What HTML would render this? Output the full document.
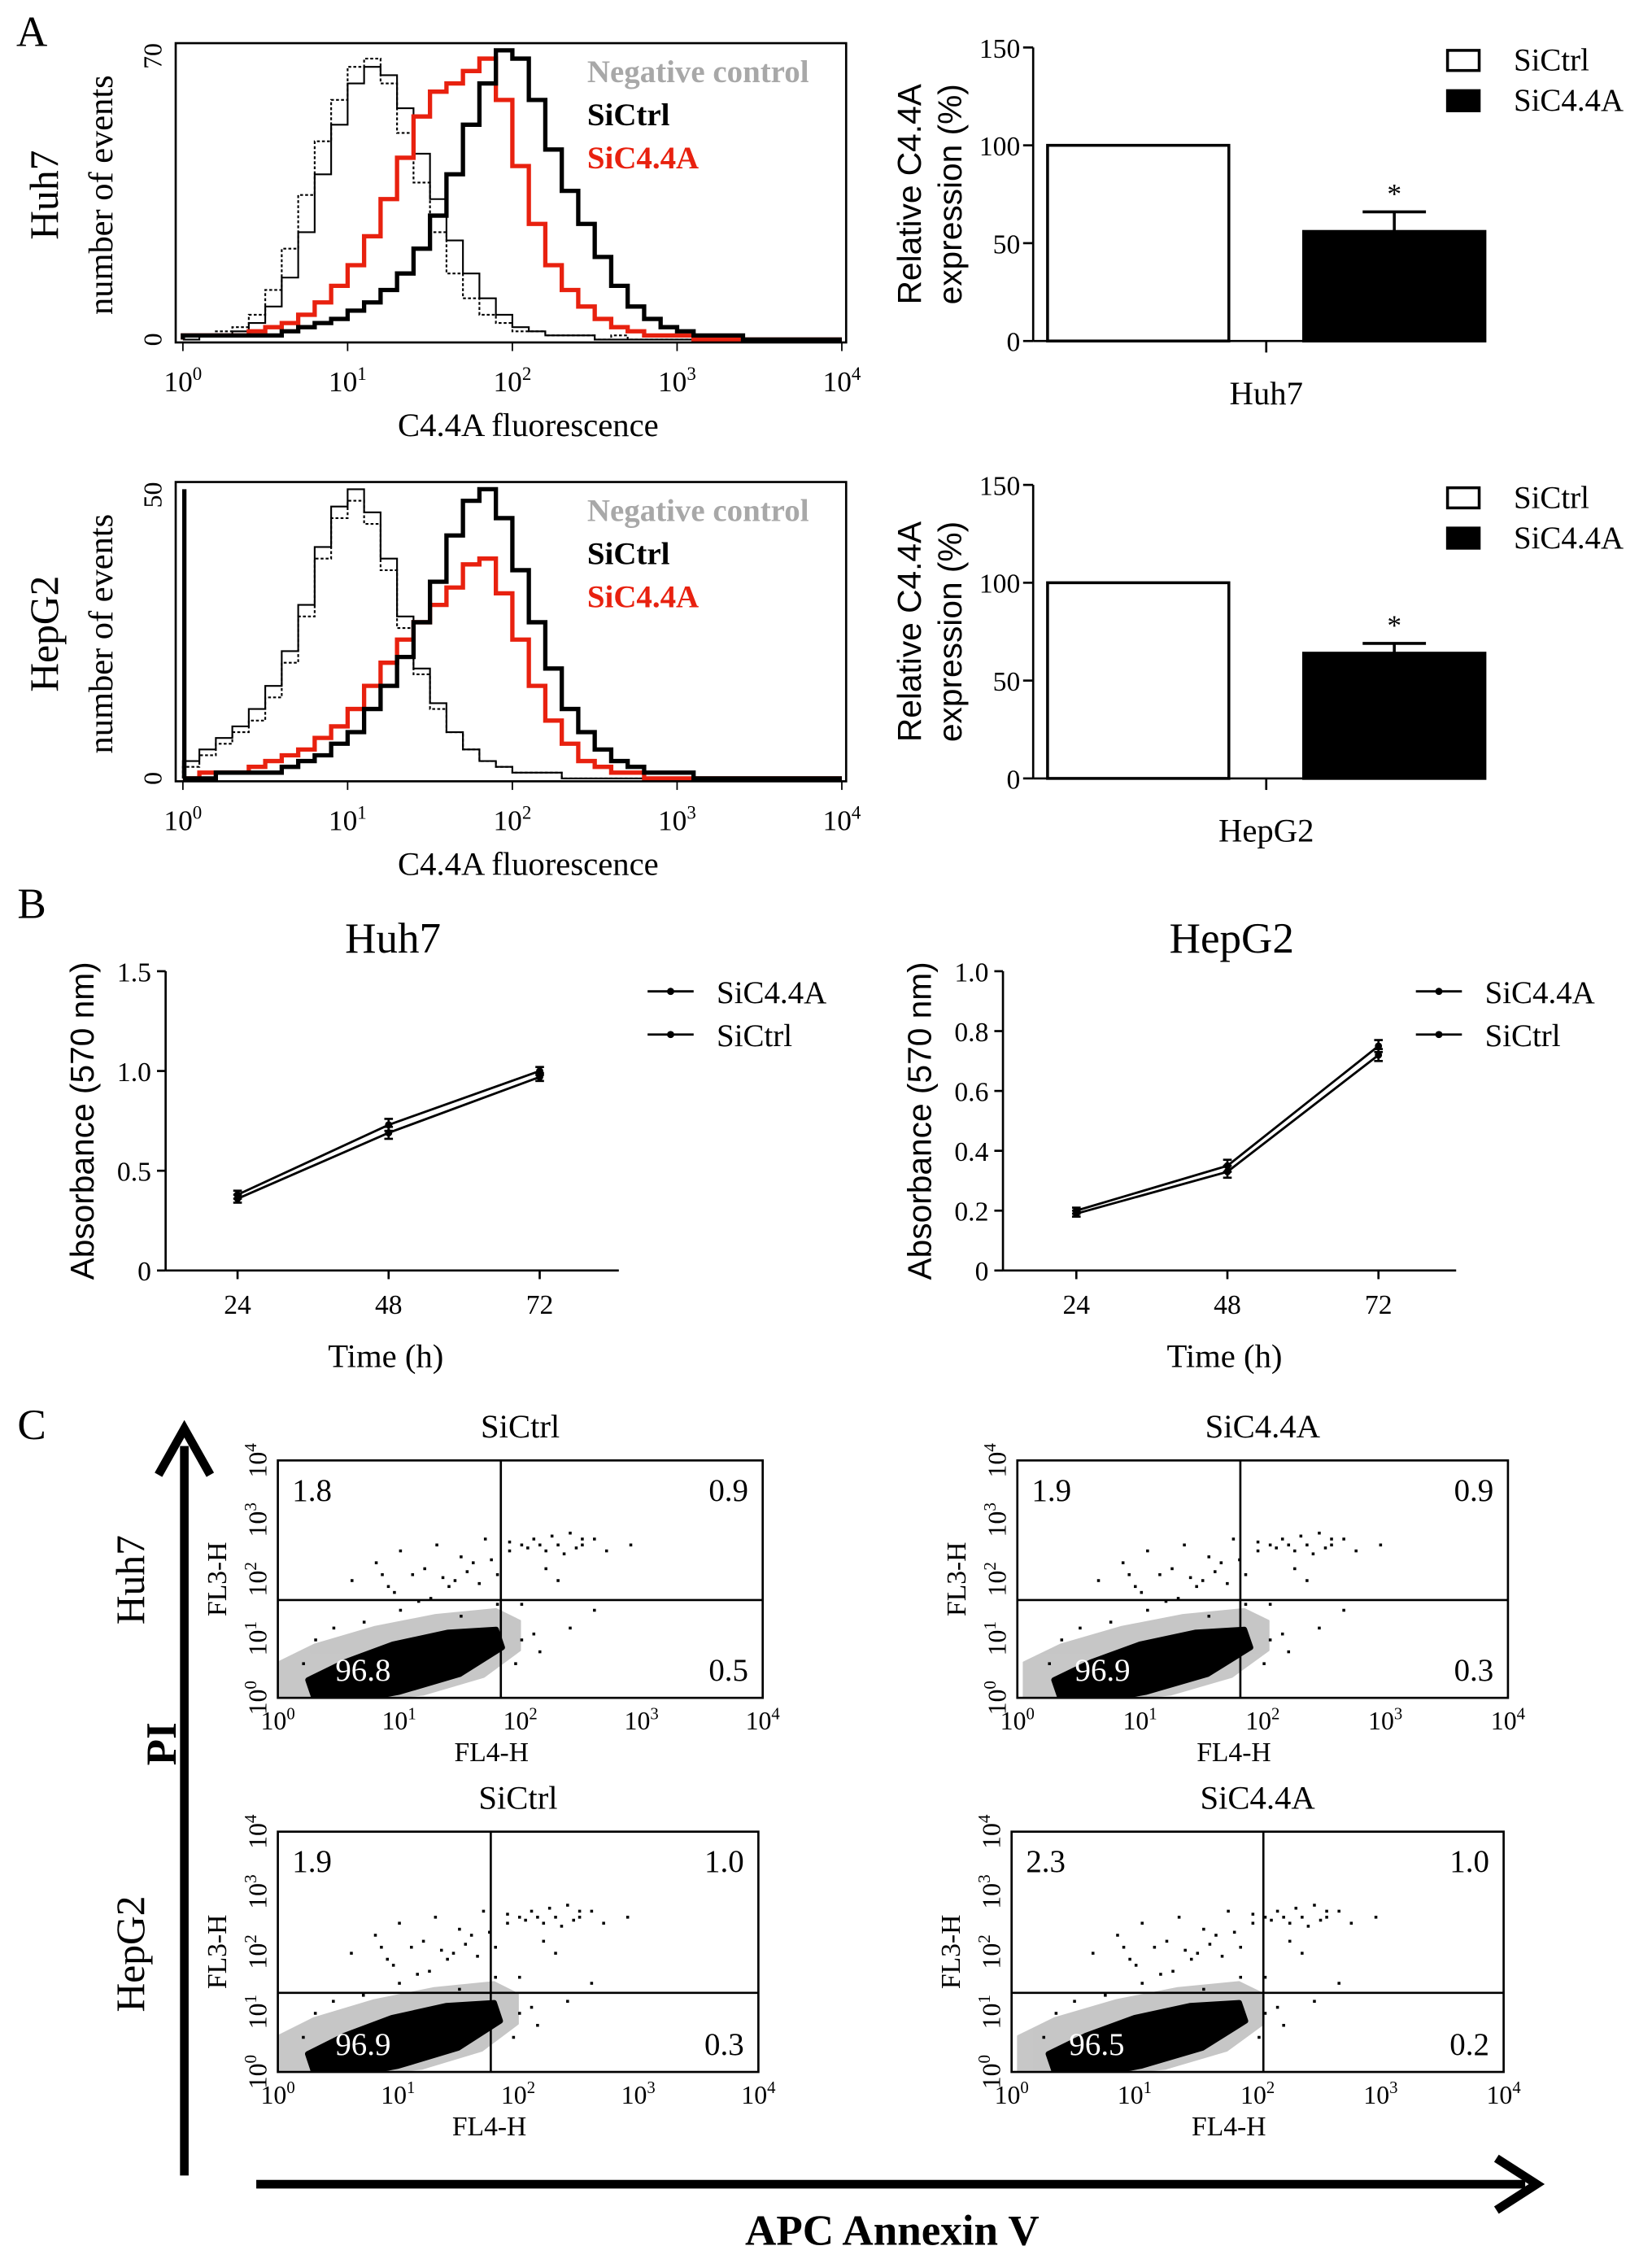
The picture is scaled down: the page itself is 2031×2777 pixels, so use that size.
<!DOCTYPE html>
<html><head><meta charset="utf-8">
<style>
html,body{margin:0;padding:0;background:#fff;}
svg{display:block;font-family:"Liberation Serif",serif;}
</style></head>
<body>
<svg id="fig" width="2031" height="2777" viewBox="0 0 1148 1570" xmlns="http://www.w3.org/2000/svg"></svg>
<script>
// ---------- DATA ----------
const histBinsLog = [0.05,0.15,0.25,0.35,0.45,0.55,0.65,0.75,0.85,0.95,1.05,1.15,1.25,1.35,1.45,1.55,1.65,1.75,1.85,1.95,2.05,2.15,2.25,2.35,2.45,2.55,2.65,2.75,2.85,2.95,3.05,3.15,3.25,3.35,3.45,3.55,3.65,3.75,3.85,3.95];
const huhNeg   = [1,1,2,3,6,12,22,35,48,58,66,68,62,50,38,26,16,10,6,4,2,2,1,1,1,0,1,0,0,0,0,0,0,0,0,0,0,0,0,0];
const huhThin  = [0,1,1,2,4,8,15,26,40,52,62,66,64,56,45,34,24,16,10,6,3,2,1,1,1,0,0,0,0,0,0,0,0,0,0,0,0,0,0,0];
const huhRed   = [1,1,1,1,2,3,4,6,9,13,18,25,34,44,54,60,62,65,68,58,42,28,18,12,8,5,3,2,1,1,1,0,0,0,0,0,0,0,0,0];
const huhThick = [1,1,1,1,1,1,2,3,4,5,7,9,12,16,22,30,40,52,62,70,68,58,46,36,28,20,13,8,5,3,2,1,1,1,0,0,0,0,0,0];
const hepNeg   = [2,4,6,8,10,14,20,28,38,45,48,44,36,26,18,12,8,5,3,2,1,1,1,0,0,0,0,0,0,0,0,0,0,0,0,0,0,0,0,0];
const hepThin  = [3,5,7,9,12,16,22,30,40,47,50,46,38,28,19,13,8,5,3,2,1,1,1,0,0,0,0,0,0,0,0,0,0,0,0,0,0,0,0,0];
const hepRed   = [0,1,1,1,2,3,4,5,7,9,12,16,20,24,27,30,33,37,38,32,24,16,10,6,3,2,1,1,0,0,0,0,0,0,0,0,0,0,0,0];
const hepThick = [0,0,1,1,1,1,2,3,4,6,8,12,16,21,27,34,42,48,50,45,36,27,19,12,8,5,3,2,1,1,1,0,0,0,0,0,0,0,0,0];

const barGroups = ["SiCtrl","SiC4.4A"];
const huhBarVals = [100,56];
const huhBarErr = [0,10];
const hepBarVals = [100,64];
const hepBarErr = [0,5];
const barTicks = [0,50,100,150];

const timePoints = [24,48,72];
const huhSiC = [0.38,0.73,1.0];
const huhSiCErr = [0.02,0.03,0.02];
const huhCtrl = [0.36,0.69,0.97];
const huhCtrlErr = [0.02,0.03,0.02];
const hepSiC = [0.20,0.35,0.75];
const hepSiCErr = [0.01,0.02,0.02];
const hepCtrl = [0.19,0.33,0.72];
const hepCtrlErr = [0.01,0.02,0.02];
const huhTicks = [0,0.5,1.0,1.5];
const hepTicks = [0,0.2,0.4,0.6,0.8,1.0];

const quadHuhCtrl = ["1.8","0.9","96.8","0.5"];
const quadHuhSi = ["1.9","0.9","96.9","0.3"];
const quadHepCtrl = ["1.9","1.0","96.9","0.3"];
const quadHepSi = ["2.3","1.0","96.5","0.2"];
const sparseX = [0.6,0.8,0.9,1.0,1.1,1.2,1.3,1.4,1.5,1.6,1.7,1.8,1.9,2.0,2.1,2.2,2.3,2.4,2.5,2.6,2.7,2.2,1.0,1.5,2.0,2.4,2.6,0.7,1.8,2.3,1.9,2.05,2.15,2.5,1.25,0.95,1.35,1.55,1.65,1.75,2.25,2.45,2.35,1.15,0.85,1.45,2.1,2.9,0.3,0.2,0.45,2.0,2.15,1.95];
const sparseY = [2.0,2.3,1.9,2.5,2.1,2.2,2.6,1.9,2.4,2.3,2.7,2.1,2.5,2.6,2.7,2.5,2.6,2.8,2.6,2.7,2.5,2.2,1.5,1.4,1.6,1.2,1.5,1.3,1.6,2.0,2.65,2.55,2.6,2.7,1.7,1.8,2.05,2.15,1.95,2.35,2.75,2.55,2.45,1.65,2.1,2.0,1.1,2.6,1.0,0.6,1.2,1.0,0.8,0.6];

// ---------- HELPERS ----------
const NS="http://www.w3.org/2000/svg";
const svg=document.getElementById('fig');
function el(tag,attrs,parent){const e=document.createElementNS(NS,tag);for(const k in attrs)e.setAttribute(k,attrs[k]);(parent||svg).appendChild(e);return e;}
function txt(s,x,y,size,opts,parent){opts=opts||{};const t=el('text',{x:x,y:y,'font-size':size,'text-anchor':opts.anchor||'middle',fill:opts.fill||'#000','font-weight':opts.bold?'bold':'normal'},parent);if(opts.rot)t.setAttribute('transform','rotate('+opts.rot+' '+x+' '+y+')');if(opts.sans)t.setAttribute('font-family','Liberation Sans, sans-serif');t.textContent=s;return t;}
function pow10(x,y,exp,size,parent){const t=el('text',{x:x,y:y,'font-size':size,'text-anchor':'middle'},parent);t.appendChild(document.createTextNode('10'));const s=el('tspan',{dy:-size*0.4,'font-size':size*0.65},t);s.textContent=exp;return t;}
const defs=el('defs',{});

// ---------- Panel letters ----------
let L;
L=txt('A',22,32,30,{});


L=txt('B',22,638,30,{});


L=txt('C',22,1000,30,{});



// ---------- Histograms ----------
function hist(cfg){
  const g=el('g',{});
  
  
  const xl=v=>127+v*114.5;
  const yv=c=>cfg.y0-c/cfg.max*(cfg.y0-cfg.ytop);
  const series=[[cfg.neg,'#000',1.2,'2,1.5'],[cfg.thin,'#000',1.2,null],[cfg.red,'#e8210f',3,null],[cfg.thick,'#000',3,null]];
  const names=['negative-control-curve','thin-control-curve','sic44a-curve','sictrl-curve'];
  series.forEach((s,si)=>{
    let d='M'+xl(0)+' '+yv(0);
    s[0].forEach((c,i)=>{const x0=xl(histBinsLog[i]-0.05),x1=xl(histBinsLog[i]+0.05);d+=' L'+x0+' '+yv(c)+' L'+x1+' '+yv(c);});
    d+=' L'+xl(4)+' '+yv(0);
    const p=el('path',{d:d,fill:'none',stroke:s[1],'stroke-width':s[2]},g);
    if(s[3])p.setAttribute('stroke-dasharray',s[3]);
    
    
  });
  if(cfg.spike){const sp=el('line',{x1:xl(0)+1,x2:xl(0)+1,y1:cfg.y0,y2:yv(cfg.spike),stroke:'#000','stroke-width':3},g);}
  const box=el('rect',{x:122,y:cfg.ytop-5,width:466,height:cfg.y0-cfg.ytop+7,fill:'none',stroke:'#000','stroke-width':1.5},g);
  
  
  for(let k=0;k<=4;k++){el('line',{x1:xl(k),x2:xl(k),y1:cfg.y0+2,y2:cfg.y0+8,stroke:'#000'},g);const t=pow10(xl(k),cfg.y0+36,k,20,g);}
  let t=txt('0',112,cfg.y0,18,{rot:-90},g);
  
  
  t=txt(String(cfg.max),112,cfg.ytop+4,18,{rot:-90},g);
  
  
  t=txt('C4.4A fluorescence',367,cfg.y0+67,23,{},g);
  
  
  t=txt('number of events',78,(cfg.y0+cfg.ytop)/2,24,{rot:-90},g);
  
  
  t=txt(cfg.cell,40,(cfg.y0+cfg.ytop)/2,28,{rot:-90},g);
  
  
  t=txt('Negative control',408,cfg.ytop+22,22,{anchor:'start',bold:true,fill:'#a8a8a8'},g);
  
  
  t=txt('SiCtrl',408,cfg.ytop+52,22,{anchor:'start',bold:true},g);
  
  
  t=txt('SiC4.4A',408,cfg.ytop+82,22,{anchor:'start',bold:true,fill:'#e8210f'},g);
  
  
}
hist({name:'huh7-histogram',cell:'Huh7',y0:236,ytop:35,max:70,neg:huhNeg,thin:huhThin,red:huhRed,thick:huhThick});
hist({name:'hepg2-histogram',cell:'HepG2',y0:541,ytop:340,max:50,neg:hepNeg,thin:hepThin,red:hepRed,thick:hepThick,spike:50});

// ---------- Bar charts ----------
function bars(cfg){
  const g=el('g',{});
  
  
  const ys=v=>cfg.y0-v/150*(cfg.y0-cfg.ytop);
  el('line',{x1:718,x2:718,y1:ys(150),y2:cfg.y0,stroke:'#000','stroke-width':1.5},g);
  el('line',{x1:718,x2:1032,y1:cfg.y0,y2:cfg.y0,stroke:'#000','stroke-width':1.5},g);
  el('line',{x1:880,x2:880,y1:cfg.y0,y2:cfg.y0+8,stroke:'#000','stroke-width':1.5},g);
  barTicks.forEach(v=>{el('line',{x1:711,x2:718,y1:ys(v),y2:ys(v),stroke:'#000','stroke-width':1.5},g);const t=txt(String(v),709,ys(v)+7,19,{anchor:'end'},g);});
  const xs=[728,906],w=126;
  cfg.vals.forEach((v,i)=>{
    const r=el('rect',{x:xs[i],y:ys(v),width:w,height:cfg.y0-ys(v),fill:i?'#000':'#fff',stroke:'#000','stroke-width':2},g);
    
    
    if(cfg.err[i]>0){
      const cx=xs[i]+w/2;
      el('line',{x1:cx,x2:cx,y1:ys(v),y2:ys(v+cfg.err[i]),stroke:'#000','stroke-width':2},g);
      el('line',{x1:cx-22,x2:cx+22,y1:ys(v+cfg.err[i]),y2:ys(v+cfg.err[i]),stroke:'#000','stroke-width':2},g);
      const s=txt('*',cx,ys(v+cfg.err[i])-6,20,{},g);
      
      
    }
  });
  let t=txt('Relative C4.4A',640,(cfg.y0+cfg.ytop)/2,23,{rot:-90,sans:true},g);
  
  
  t=txt('expression (%)',668,(cfg.y0+cfg.ytop)/2,23,{rot:-90,sans:true},g);
  
  
  t=txt(cfg.cell,880,cfg.y0+44,23,{},g);
  
  
  barGroups.forEach((nm,i)=>{
    const r=el('rect',{x:1006,y:cfg.ytop+2+i*28,width:22,height:14,fill:i?'#000':'#fff',stroke:'#000','stroke-width':2},g);
    
    
    const tt=txt(nm,1052,cfg.ytop+16+i*28,22,{anchor:'start'},g);
    
    
  });
}
bars({name:'huh7-bar-chart',cell:'Huh7',y0:237,ytop:33,vals:huhBarVals,err:huhBarErr});
bars({name:'hepg2-bar-chart',cell:'HepG2',y0:541,ytop:337,vals:hepBarVals,err:hepBarErr});

// ---------- Line charts ----------
function lines(cfg){
  const g=el('g',{});
  
  
  const ax=cfg.ax, y0=883, ytop=675;
  const ys=v=>y0-v/cfg.ymax*(y0-ytop);
  const xs=t=>cfg.x24+(t-24)/24*105;
  el('line',{x1:ax,x2:ax,y1:ytop,y2:y0,stroke:'#000','stroke-width':1.5},g);
  el('line',{x1:ax,x2:ax+315,y1:y0,y2:y0,stroke:'#000','stroke-width':1.5},g);
  cfg.ticks.forEach(v=>{el('line',{x1:ax-6,x2:ax,y1:ys(v),y2:ys(v),stroke:'#000','stroke-width':1.5},g);const t=txt(cfg.fmt(v),ax-10,ys(v)+7,19,{anchor:'end'},g);});
  timePoints.forEach(tp=>{el('line',{x1:xs(tp),x2:xs(tp),y1:y0,y2:y0+6,stroke:'#000','stroke-width':1.5},g);const t=txt(String(tp),xs(tp),y0+30,19,{},g);});
  [[cfg.s1,cfg.e1,'sic44a-line'],[cfg.s2,cfg.e2,'sictrl-line']].forEach(s=>{
    const p=el('polyline',{points:s[0].map((v,i)=>xs(timePoints[i])+','+ys(v)).join(' '),fill:'none',stroke:'#000','stroke-width':1.6},g);
    
    
    s[0].forEach((v,i)=>{const x=xs(timePoints[i]);el('line',{x1:x,x2:x,y1:ys(v-s[1][i]),y2:ys(v+s[1][i]),stroke:'#000','stroke-width':1.5},g);el('line',{x1:x-3,x2:x+3,y1:ys(v+s[1][i]),y2:ys(v+s[1][i]),stroke:'#000','stroke-width':1.5},g);el('line',{x1:x-3,x2:x+3,y1:ys(v-s[1][i]),y2:ys(v-s[1][i]),stroke:'#000','stroke-width':1.5},g);const c=el('circle',{cx:x,cy:ys(v),r:2.5,fill:'#000'},g);});
  });
  let t=txt(cfg.title,cfg.x24+108,662,30,{},g);
  
  
  t=txt('Time (h)',cfg.x24+103,950,23,{},g);
  
  
  t=txt('Absorbance (570 nm)',ax-50,(y0+ytop)/2,23,{rot:-90,sans:true},g);
  
  
  ['SiC4.4A','SiCtrl'].forEach((nm,i)=>{
    const ly=689+i*30;
    el('line',{x1:cfg.lx,x2:cfg.lx+32,y1:ly,y2:ly,stroke:'#000','stroke-width':1.6},g);
    el('circle',{cx:cfg.lx+16,cy:ly,r:2.5,fill:'#000'},g);
    const tt=txt(nm,cfg.lx+48,ly+8,22,{anchor:'start'},g);
    
    
  });
}
lines({name:'huh7-line-chart',title:'Huh7',ax:115,x24:165,ymax:1.5,ticks:huhTicks,fmt:v=>v===0?'0':v.toFixed(1),s1:huhSiC,e1:huhSiCErr,s2:huhCtrl,e2:huhCtrlErr,lx:450});
lines({name:'hepg2-line-chart',title:'HepG2',ax:697,x24:748,ymax:1.0,ticks:hepTicks,fmt:v=>v===0?'0':v.toFixed(1),s1:hepSiC,e1:hepSiCErr,s2:hepCtrl,e2:hepCtrlErr,lx:984});

// ---------- Scatter plots ----------
let clipN=0;
function scatter(cfg){
  const g=el('g',{});
  
  
  const x0=cfg.x0,x1=cfg.x1,y0=cfg.y1,y1=cfg.y0;
  const xs=v=>x0+v/4*(x1-x0), ys=v=>y0-v/4*(y0-y1);
  const cid='clip'+(clipN++);
  const cp=el('clipPath',{id:cid},defs);
  el('rect',{x:x0,y:y1,width:x1-x0,height:y0-y1},cp);
  const cl=el('g',{'clip-path':'url(#'+cid+')'},g);
  
  
  const halo=[[0,0],[0,0.6],[0.3,0.9],[0.8,1.2],[1.3,1.4],[1.8,1.5],[2.0,1.3],[2.0,0.8],[1.7,0.35],[1.2,0.05],[0.7,-0.05]];
  const core=[[0.3,0.0],[0.25,0.3],[0.55,0.6],[0.95,0.9],[1.4,1.1],[1.8,1.15],[1.85,0.85],[1.5,0.4],[1.0,0.1],[0.6,-0.05]];
  el('polygon',{points:halo.map(p=>xs(p[0]+cfg.dx)+','+ys(p[1])).join(' '),fill:'#000',opacity:0.22,stroke:'#000','stroke-width':1,'stroke-linejoin':'round'},cl);
  el('polygon',{points:core.map(p=>xs(p[0]+cfg.dx)+','+ys(p[1])).join(' '),fill:'#000',stroke:'#000','stroke-width':4,'stroke-linejoin':'round'},cl);
  sparseX.forEach((v,i)=>{const c=el('rect',{x:xs(v+cfg.dx),y:ys(sparseY[i]),width:2,height:2,fill:'#000'},g);});
  const box=el('rect',{x:x0,y:y1,width:x1-x0,height:y0-y1,fill:'none',stroke:'#000','stroke-width':1.5},g);
  
  
  el('line',{x1:cfg.vx,x2:cfg.vx,y1:y1,y2:y0,stroke:'#000','stroke-width':1.5},g);
  el('line',{x1:x0,x2:x1,y1:cfg.hy,y2:cfg.hy,stroke:'#000','stroke-width':1.5},g);
  for(let k=0;k<=4;k++){const t=pow10(xs(k),y0+22,k,18,g);
    const ty=el('text',{x:x0-8,y:ys(k),'font-size':18,'text-anchor':'middle',transform:'rotate(-90 '+(x0-8)+' '+ys(k)+')'},g);ty.appendChild(document.createTextNode('10'));const s=el('tspan',{dy:-7,'font-size':12},ty);s.textContent=k;}
  let t=txt('FL4-H',(x0+x1)/2-20,y0+44,19,{},g);
  
  
  t=txt('FL3-H',x0-36,(y0+y1)/2,19,{rot:-90},g);
  
  
  t=txt(cfg.title,(x0+x1)/2,y1-16,23,{},g);
  
  
  const q=cfg.q;
  [[q[0],x0+10,y1+28,'start','#000'],[q[1],x1-10,y1+28,'end','#000'],[q[2],x0+40,y0-12,'start','#fff'],[q[3],x1-10,y0-12,'end','#000']].forEach(a=>{const tt=txt(a[0],a[1],a[2],22,{anchor:a[3],fill:a[4]},g);});
}
scatter({name:'huh7-sictrl-scatter',title:'SiCtrl',x0:193,x1:530,y0:1015,y1:1180,vx:348,hy:1112,q:quadHuhCtrl,dx:0});
scatter({name:'huh7-sic44a-scatter',title:'SiC4.4A',x0:707,x1:1048,y0:1015,y1:1180,vx:862,hy:1112,q:quadHuhSi,dx:0.05});
scatter({name:'hepg2-sictrl-scatter',title:'SiCtrl',x0:193,x1:527,y0:1273,y1:1440,vx:341,hy:1385,q:quadHepCtrl,dx:0});
scatter({name:'hepg2-sic44a-scatter',title:'SiC4.4A',x0:703,x1:1045,y0:1273,y1:1440,vx:878,hy:1385,q:quadHepSi,dx:0.05});

L=txt('Huh7',100,1098,28,{rot:-90});


L=txt('HepG2',100,1358,28,{rot:-90});



// arrows
const ay=el('g',{});


el('line',{x1:128,x2:128,y1:1512,y2:1005,stroke:'#000','stroke-width':6},ay);
el('polyline',{points:'110,1025 128,993 146,1025',fill:'none',stroke:'#000','stroke-width':6},ay);
const ax2=el('g',{});


el('line',{x1:178,x2:1060,y1:1518,y2:1518,stroke:'#000','stroke-width':6},ax2);
el('polyline',{points:'1040,1500 1068,1518 1040,1536',fill:'none',stroke:'#000','stroke-width':6},ax2);
L=txt('PI',122,1212,30,{rot:-90,bold:true});


L=txt('APC Annexin V',620,1560,30,{bold:true});


</script>
</body></html>
